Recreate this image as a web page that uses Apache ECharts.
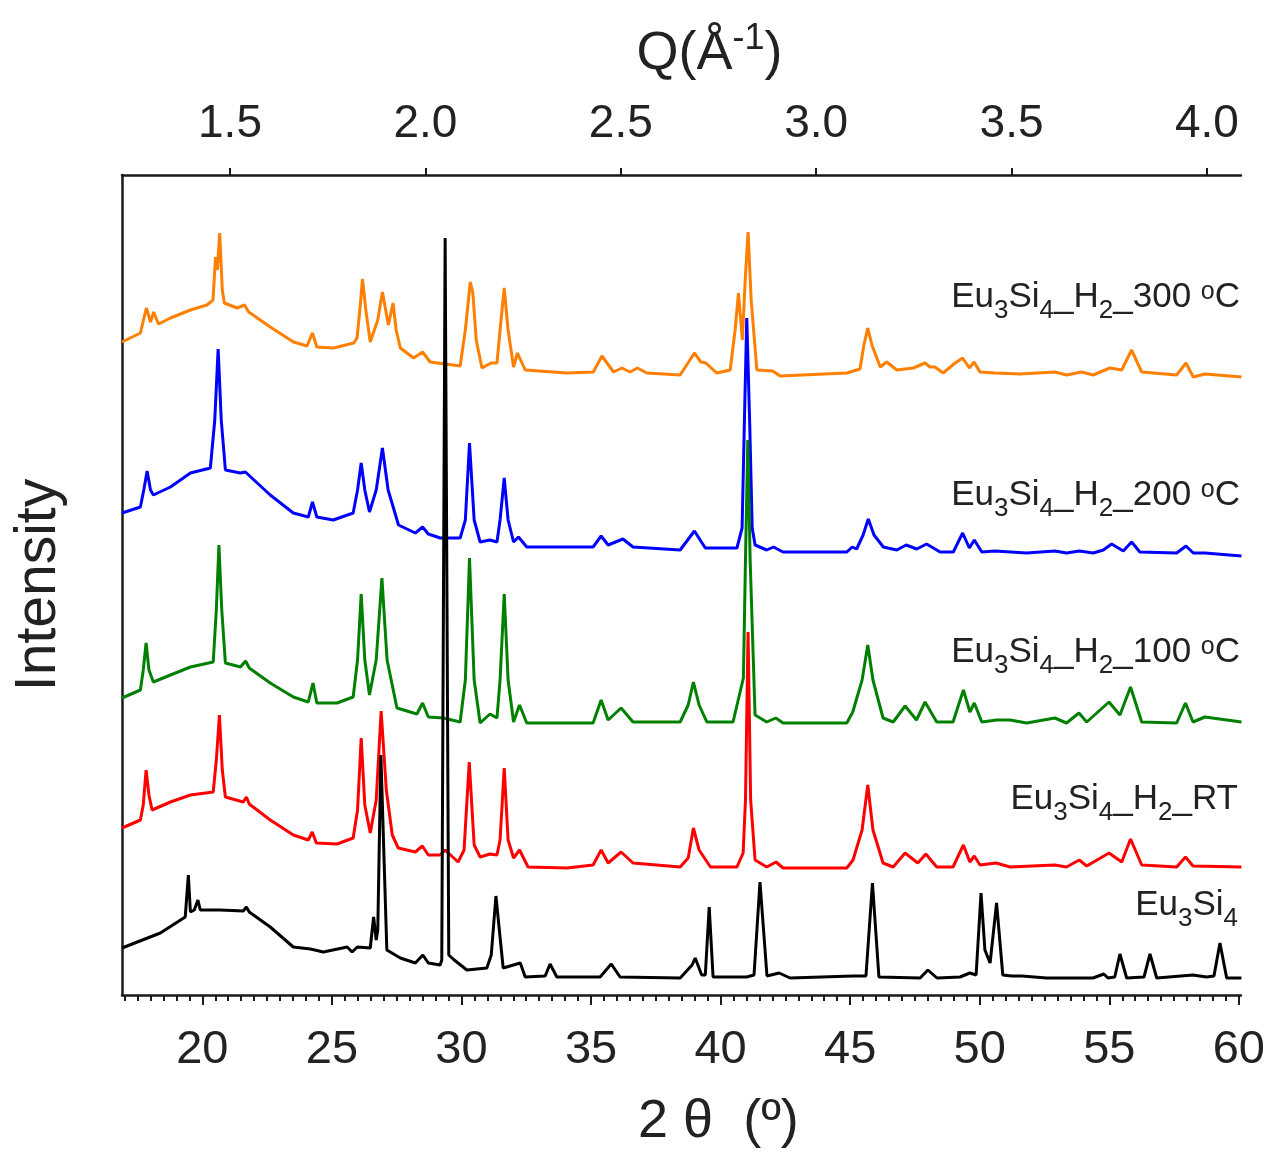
<!DOCTYPE html>
<html>
<head>
<meta charset="utf-8">
<style>
  html, body { margin: 0; padding: 0; background: #fff; }
  #chart { width: 1268px; height: 1155px; }
</style>
<script src="https://cdn.jsdelivr.net/npm/echarts@6/dist/echarts.min.js"></script>
</head>
<body>
<div id="chart"></div>
<script>
// [2θ, intensity] pairs (series already offset as displayed)
const eu3si4 = [
  [16.9,47],[18.38,62],[19.34,78],[19.38,80],[19.46,120],[19.54,83],[19.69,85],[19.83,95],[19.92,85],
  [20.69,85],[21.58,84],[21.7,88],[21.81,83],[22.62,68],[23.51,48],[24.17,46],[24.67,43],[25.59,48],
  [25.78,43],[25.98,48],[26.48,47],[26.61,78],[26.71,55],[26.77,65],[26.89,240],[27.12,45],[27.64,37],
  [28.22,32],[28.51,40],[28.72,32],[29.18,30],[29.24,35],[29.37,757],[29.51,40],[29.72,35],[30.21,25],
  [30.98,27],[31.15,40],[31.33,99],[31.5,55],[31.61,27],[32.27,32],[32.46,18],[33.23,19],[33.42,31],
  [33.68,18],[35.35,18],[35.78,31],[36.12,18],[38.44,17],[38.9,30],[39.02,37],[39.27,20],[39.41,20],
  [39.56,88],[39.71,18],[41.01,18],[41.29,20],[41.52,113],[41.79,19],[42.26,22],[42.68,17],[45.11,19],
  [45.61,19],[45.86,112],[46.11,18],[47.7,17],[48.0,25],[48.35,17],[49.24,18],[49.62,22],[49.86,20],
  [50.05,102],[50.2,45],[50.4,32],[50.65,92],[50.89,20],[51.23,19],[51.62,19],[52.58,17],[54.37,17],
  [54.79,21],[54.95,17],[55.21,18],[55.41,41],[55.67,17],[56.34,18],[56.57,41],[56.83,17],[58.23,20],
  [58.75,18],[59.04,19],[59.27,52],[59.53,17],[60.1,17]
];
const h2RT = [
  [16.9,167],[17.61,175],[17.72,190],[17.83,225],[17.94,200],[18.06,185],[18.77,193],[19.54,200],
  [20.42,203],[20.54,235],[20.66,280],[20.77,225],[20.89,198],[21.58,193],[21.7,198],[21.81,191],
  [22.62,175],[23.51,160],[24.09,155],[24.24,163],[24.4,152],[25.2,151],[25.82,157],[25.99,185],
  [26.13,257],[26.27,190],[26.48,162],[26.71,195],[26.9,284],[27.1,205],[27.33,160],[27.56,147],
  [28.22,143],[28.49,149],[28.72,140],[29.18,140],[29.37,145],[29.87,133],[30.1,145],[30.3,233],
  [30.49,150],[30.72,138],[31.1,141],[31.37,140],[31.49,155],[31.65,227],[31.8,155],[32.01,137],
  [32.24,145],[32.57,128],[34.07,127],[35.08,130],[35.39,145],[35.66,132],[36.16,143],[36.62,132],
  [38.44,128],[38.75,137],[38.95,167],[39.17,145],[39.61,128],[40.63,128],[40.87,142],[40.96,195],
  [41.06,363],[41.16,195],[41.33,135],[41.78,128],[42.14,133],[42.41,127],[44.87,127],[45.11,135],
  [45.46,165],[45.68,210],[45.88,165],[46.27,132],[46.66,128],[47.12,142],[47.61,132],[47.92,141],
  [48.34,128],[48.97,128],[49.37,150],[49.62,133],[49.79,139],[50.01,130],[50.63,132],[51.17,128],
  [52.9,130],[53.35,128],[53.84,135],[54.13,129],[54.99,142],[55.48,133],[55.82,156],[56.25,130],
  [57.6,128],[57.94,138],[58.23,129],[60.1,128]
];
const h2100 = [
  [16.9,297],[17.61,305],[17.72,325],[17.83,352],[17.94,325],[18.11,313],[18.77,320],[19.54,328],
  [20.42,333],[20.54,385],[20.64,450],[20.75,385],[20.89,332],[21.47,328],[21.67,334],[21.81,327],
  [22.62,312],[23.51,298],[24.09,293],[24.27,312],[24.42,292],[25.2,292],[25.82,298],[25.99,335],
  [26.13,401],[26.27,335],[26.45,300],[26.71,335],[26.93,417],[27.13,335],[27.51,287],[28.28,281],
  [28.5,292],[28.72,278],[29.3,277],[29.95,273],[30.15,315],[30.31,437],[30.49,315],[30.72,272],
  [31.1,281],[31.37,277],[31.49,315],[31.65,401],[31.8,315],[32.01,273],[32.24,290],[32.52,272],
  [35.08,272],[35.39,295],[35.66,275],[36.16,287],[36.62,273],[38.44,273],[38.75,290],[38.95,313],
  [39.17,290],[39.47,273],[40.48,273],[40.88,317],[40.96,435],[41.05,555],[41.14,435],[41.33,280],
  [41.78,273],[42.13,277],[42.41,272],[44.87,272],[45.1,283],[45.46,315],[45.68,350],[45.88,315],
  [46.27,277],[46.66,273],[47.12,289],[47.56,275],[47.89,293],[48.34,273],[48.97,273],[49.37,305],
  [49.62,283],[49.79,292],[50.08,273],[50.66,275],[51.17,275],[51.81,272],[52.9,277],[53.35,272],
  [53.83,282],[54.13,273],[54.99,293],[55.41,280],[55.82,308],[56.25,273],[57.6,272],[57.94,292],
  [58.23,273],[58.69,278],[60.1,273]
];
const h2200 = [
  [16.9,482],[17.61,488],[17.74,505],[17.87,524],[18.0,505],[18.11,500],[18.77,508],[19.54,522],
  [20.31,527],[20.48,575],[20.61,646],[20.73,575],[20.89,525],[21.47,522],[21.66,523],[22.62,500],
  [23.51,482],[24.09,478],[24.25,493],[24.42,478],[25.05,475],[25.82,482],[25.99,505],[26.13,532],
  [26.27,505],[26.45,483],[26.71,505],[26.95,547],[27.17,505],[27.57,470],[28.22,462],[28.5,468],
  [28.72,461],[29.18,457],[29.95,457],[30.15,475],[30.31,552],[30.49,475],[30.72,453],[31.1,455],
  [31.37,453],[31.49,475],[31.65,517],[31.8,475],[32.01,453],[32.2,458],[32.52,448],[35.08,448],
  [35.39,459],[35.66,450],[36.23,456],[36.62,448],[38.44,445],[38.99,464],[39.41,447],[40.63,447],
  [40.83,467],[40.92,575],[41.01,677],[41.12,575],[41.22,467],[41.33,450],[41.78,445],[42.04,448],
  [42.41,443],[44.87,443],[45.08,448],[45.25,446],[45.5,460],[45.7,476],[45.92,460],[46.28,448],
  [46.8,445],[47.16,450],[47.57,446],[47.95,451],[48.47,443],[48.98,443],[49.34,462],[49.6,447],
  [49.79,455],[50.08,443],[50.59,444],[51.81,442],[52.9,444],[53.35,442],[53.84,444],[54.38,442],
  [54.77,445],[55.09,451],[55.54,444],[55.86,453],[56.18,443],[57.6,442],[57.96,449],[58.24,442],
  [58.69,442],[60.1,439]
];
const h2300 = [
  [16.9,653],[17.61,662],[17.84,687],[18.0,673],[18.12,683],[18.31,671],[18.77,677],[19.54,685],
  [20.18,690],[20.41,695],[20.51,738],[20.58,725],[20.67,762],[20.77,705],[20.85,692],[21.34,687],
  [21.63,690],[21.79,683],[22.62,668],[23.52,653],[24.04,649],[24.25,662],[24.42,648],[25.06,647],
  [25.84,652],[25.97,657],[26.08,685],[26.18,716],[26.31,685],[26.48,653],[26.77,675],[26.95,703],
  [27.18,670],[27.36,692],[27.48,665],[27.64,647],[28.15,637],[28.5,643],[28.79,633],[29.95,629],
  [30.15,665],[30.34,713],[30.44,702],[30.57,655],[30.79,627],[31.14,632],[31.37,632],[31.49,665],
  [31.65,707],[31.8,665],[32.01,628],[32.16,642],[32.46,625],[34.07,622],[35.09,623],[35.42,639],
  [35.87,623],[36.19,627],[36.51,623],[36.79,627],[37.15,622],[38.44,620],[38.99,642],[39.24,633],
  [39.43,632],[39.85,622],[40.37,625],[40.56,665],[40.69,702],[40.84,655],[40.95,715],[41.06,763],
  [41.18,695],[41.4,625],[42.01,624],[42.3,619],[44.87,622],[45.38,626],[45.53,650],[45.68,667],
  [45.84,650],[46.16,628],[46.41,633],[46.8,625],[47.44,627],[47.89,632],[48.08,628],[48.27,628],
  [48.59,622],[49.05,632],[49.34,637],[49.6,627],[49.78,633],[50.01,623],[50.59,622],[51.55,621],
  [52.9,623],[53.35,620],[53.93,623],[54.38,620],[55.02,627],[55.48,625],[55.86,645],[56.25,623],
  [57.6,620],[57.96,632],[58.24,618],[58.69,621],[60.1,618]
];

const seriesNames = ['Eu3Si4_H2_300', 'Eu3Si4_H2_200', 'Eu3Si4_H2_100', 'Eu3Si4_H2_RT', 'Eu3Si4'];
const seriesData = [h2300, h2200, h2100, h2RT, eu3si4];
const seriesColors = ['#ff8000', '#0000ff', '#008000', '#ff0000', '#000000'];

const twoThetaTicks = [20, 25, 30, 35, 40, 45, 50, 55, 60];
const qTicks = [1.5, 2.0, 2.5, 3.0, 3.5, 4.0];

const minorTicks = [];
for (let v = 17; v <= 60; v += 0.5) minorTicks.push(v);

// axis ranges
const X_MIN = 16.9, X_MAX = 60.08;
const Q_MIN = 1.2236, Q_MAX = 4.087;

const axisColor = '#1a1a1a';
const textColor = '#222';
const font = 'Liberation Sans, Arial, sans-serif';

const chart = echarts.init(document.getElementById('chart'));

const labelRich = {
  n: { fontSize: 35, lineHeight: 36, verticalAlign: 'top', fontFamily: font, color: textColor },
  s: { fontSize: 26, lineHeight: 26, padding: [18, 0, 0, 0], verticalAlign: 'top', fontFamily: font, color: textColor },
  o: { fontSize: 25, lineHeight: 18, verticalAlign: 'top', fontFamily: font, color: textColor }
};

const seriesLabels = [
  { text: '{n|Eu}{s|3}{n|Si}{s|4}{n|_H}{s|2}{n|_300 }{o|o}{n|C}', top: 280, right: 28 },
  { text: '{n|Eu}{s|3}{n|Si}{s|4}{n|_H}{s|2}{n|_200 }{o|o}{n|C}', top: 478, right: 28 },
  { text: '{n|Eu}{s|3}{n|Si}{s|4}{n|_H}{s|2}{n|_100 }{o|o}{n|C}', top: 635, right: 28 },
  { text: '{n|Eu}{s|3}{n|Si}{s|4}{n|_H}{s|2}{n|_RT}', top: 782, right: 30 },
  { text: '{n|Eu}{s|3}{n|Si}{s|4}', top: 888, right: 30 }
];

chart.setOption({
  animation: false,
  backgroundColor: '#fff',
  grid: { left: 122, right: 27, top: 175, bottom: 160 },
  xAxis: [
    {
      type: 'value', position: 'bottom', min: X_MIN, max: X_MAX,
      name: '2 θ  (º)', nameLocation: 'middle', nameGap: 100,
      nameTextStyle: { fontSize: 54, fontFamily: font, color: textColor, padding: [0, 0, 0, 74] },
      axisLine: { lineStyle: { color: axisColor, width: 2.5 } },
      axisTick: { length: 10, customValues: twoThetaTicks, lineStyle: { color: axisColor, width: 2 } },
      axisLabel: { customValues: twoThetaTicks, margin: 32, fontSize: 47, fontFamily: font, color: textColor },
      splitLine: { show: false }
    },
    {
      type: 'value', position: 'top', min: Q_MIN, max: Q_MAX, gridIndex: 0,
      name: '{n|Q(Å}{sup|-1}{n|)}', nameLocation: 'middle', nameGap: 94,
      nameTextStyle: {
        padding: [0, 0, 0, 56],
        rich: {
          n: { fontSize: 54, fontFamily: font, color: textColor, lineHeight: 60, verticalAlign: 'bottom' },
          sup: { fontSize: 36, fontFamily: font, color: textColor, lineHeight: 60, verticalAlign: 'top', padding: [0, 0, 12, 0] }
        }
      },
      axisLine: { lineStyle: { color: axisColor, width: 2.5 } },
      axisTick: { length: 7, customValues: qTicks, lineStyle: { color: axisColor, width: 2 } },
      axisLabel: {
        customValues: qTicks, margin: 28, fontSize: 46, fontFamily: font, color: textColor,
        formatter: v => v.toFixed(1)
      },
      splitLine: { show: false }
    },
    {
      type: 'value', position: 'bottom', min: X_MIN, max: X_MAX,
      axisLine: { show: false },
      axisTick: { length: 6, customValues: minorTicks, lineStyle: { color: axisColor, width: 2 } },
      axisLabel: { show: false },
      splitLine: { show: false }
    }
  ],
  yAxis: {
    type: 'value', min: 0, max: 820,
    name: 'Intensity', nameLocation: 'middle', nameGap: 54, nameRotate: 90,
    nameTextStyle: { fontSize: 57, fontFamily: font, color: textColor },
    axisLine: { show: true, lineStyle: { color: axisColor, width: 2.5 } },
    axisTick: { show: false },
    axisLabel: { show: false },
    splitLine: { show: false }
  },
  series: seriesData.map((d, i) => ({
    name: seriesNames[i],
    type: 'line',
    xAxisIndex: 0,
    data: d,
    symbol: 'none',
    lineStyle: { color: seriesColors[i], width: 3 },
    z: 2 + i
  })),
  graphic: seriesLabels.map(l => ({
    type: 'text',
    right: l.right,
    top: l.top,
    z: 100,
    style: { text: l.text, rich: labelRich, fill: textColor, font: '35px ' + font }
  }))
});
</script>
</body>
</html>
